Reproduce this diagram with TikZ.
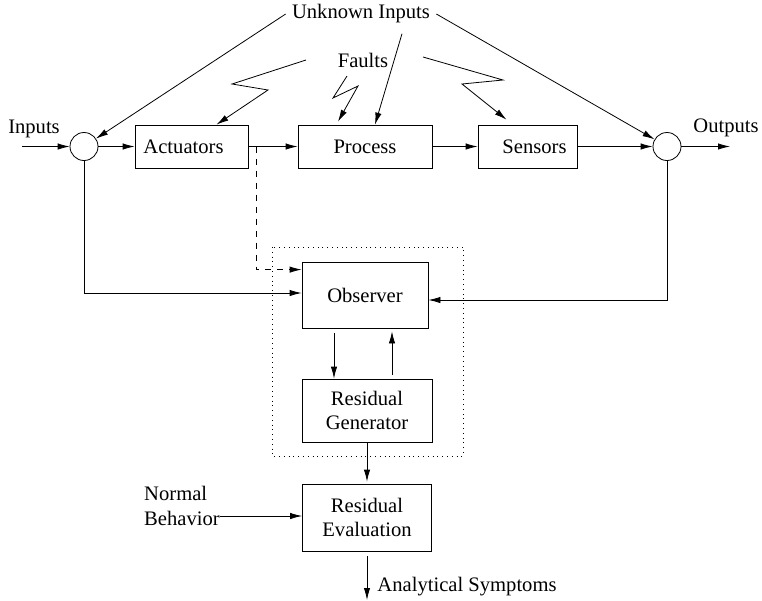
\documentclass[tikz,border=0pt]{standalone}
\usepackage{fontspec}
\setmainfont{Liberation Serif}
\usetikzlibrary{arrows.meta,calc}
\begin{document}
\begin{tikzpicture}[
x=0.5pt, y=-0.5pt,
>={Latex[length=6pt,width=3.2pt]},
every node/.style={font=\fontsize{10.3}{12.4}\selectfont},
block/.style={draw, minimum height=21.5pt, inner sep=0pt, align=center},
sum/.style={draw, circle, minimum size=14pt, inner sep=0pt},
label/.style={inner sep=0pt, align=left}
]
\useasboundingbox (0,0) rectangle (762,601);
% main loop
\node (insum) [sum] at (84,146.5) {};
\node (act) [block, minimum width=56.5pt] at (191.5,146.5) {Actuators\hspace{8pt}};
\node (proc) [block, minimum width=67pt] at (365,146.5) {Process};
\node (sens) [block, minimum width=49.5pt] at (527.5,146.5) {\hspace{7pt}Sensors};
\node (outsum) [sum] at (667,146.5) {};
\node (inlbl) [label] at (34,129) {Inputs};
\node (outlbl) [label] at (726,128) {Outputs};
\node (unk) [inner sep=3pt] at (361,14) {Unknown Inputs};
\node (faults) [label] at (363,60) {Faults};
\coordinate (instart) at (22,146.5);
\coordinate (outend) at (730,146.5);
% diagnosis part
\node (obs) [block, minimum width=63pt, minimum height=33pt] at (365,295) {Observer};
\node (resgen) [block, minimum width=65pt, minimum height=31.5pt] at (367,410.5) {Residual\\Generator};
\node (reseval) [block, minimum width=64.5pt, minimum height=33.5pt] at (367,517.5) {Residual\\Evaluation};
\node (normal) [label] at (182,506) {Normal\\Behavior};
\node (symp) [label] at (467,587) {Analytical Symptoms};
\coordinate (sympend) at (367,600);
\draw[dotted] (272,247) rectangle (463,456);

\draw[->] (instart) -- (insum);
\draw[->] (insum) -- (act);
\draw[->] (act) -- (proc);
\draw[->] (proc) -- (sens);
\draw[->] (sens) -- (outsum);
\draw[->] (outsum) -- (outend);

% unknown inputs
\draw[->] (unk.west) -- (insum);
\draw[->] ($(unk.south)+(41,4)$) -- ($(proc.north)+(10,0)$);
\draw[->] (unk.east) -- (outsum);

% faults
\coordinate (fa) at (306,60);
\coordinate (fb) at (347,76);
\coordinate (fc) at (423,57);
\draw[->] (fa) -- (232,84) -- (268,90) -- ($(act.north)+(25,0)$);
\draw[->] (fb) -- (333,98) -- (358,86) -- ($(proc.north)+(-27,-3)$);
\draw[->] (fc) -- (503,80) -- (462,84) -- ($(sens.north)+(-21,-5)$);

% observer inputs
\coordinate (tap) at (256,146.5);
\draw[dashed,->] (tap) |- ($(obs.north west)+(0,8)$);
\draw[->] (insum.south) |- ($(obs.west)+(0,-2)$);
\draw[->] (outsum.south) |- ($(obs.east)+(0,5)$);
\draw[->] ($(obs.south)+(-31,5)$) -- ($(resgen.north)+(-33,0)$);
\draw[->] ($(resgen.north)+(25,-4)$) -- ($(obs.south)+(27,3)$);
\draw[->] (resgen.south) -- ($(reseval.north)+(0,-2)$);
\coordinate (nb) at ($(normal.east)+(0,10)$);
\draw[->] (nb) -- (nb -| reseval.west);
\draw[->] ($(reseval.south)+(0,5)$) -- (sympend);
\end{tikzpicture}
\end{document}
